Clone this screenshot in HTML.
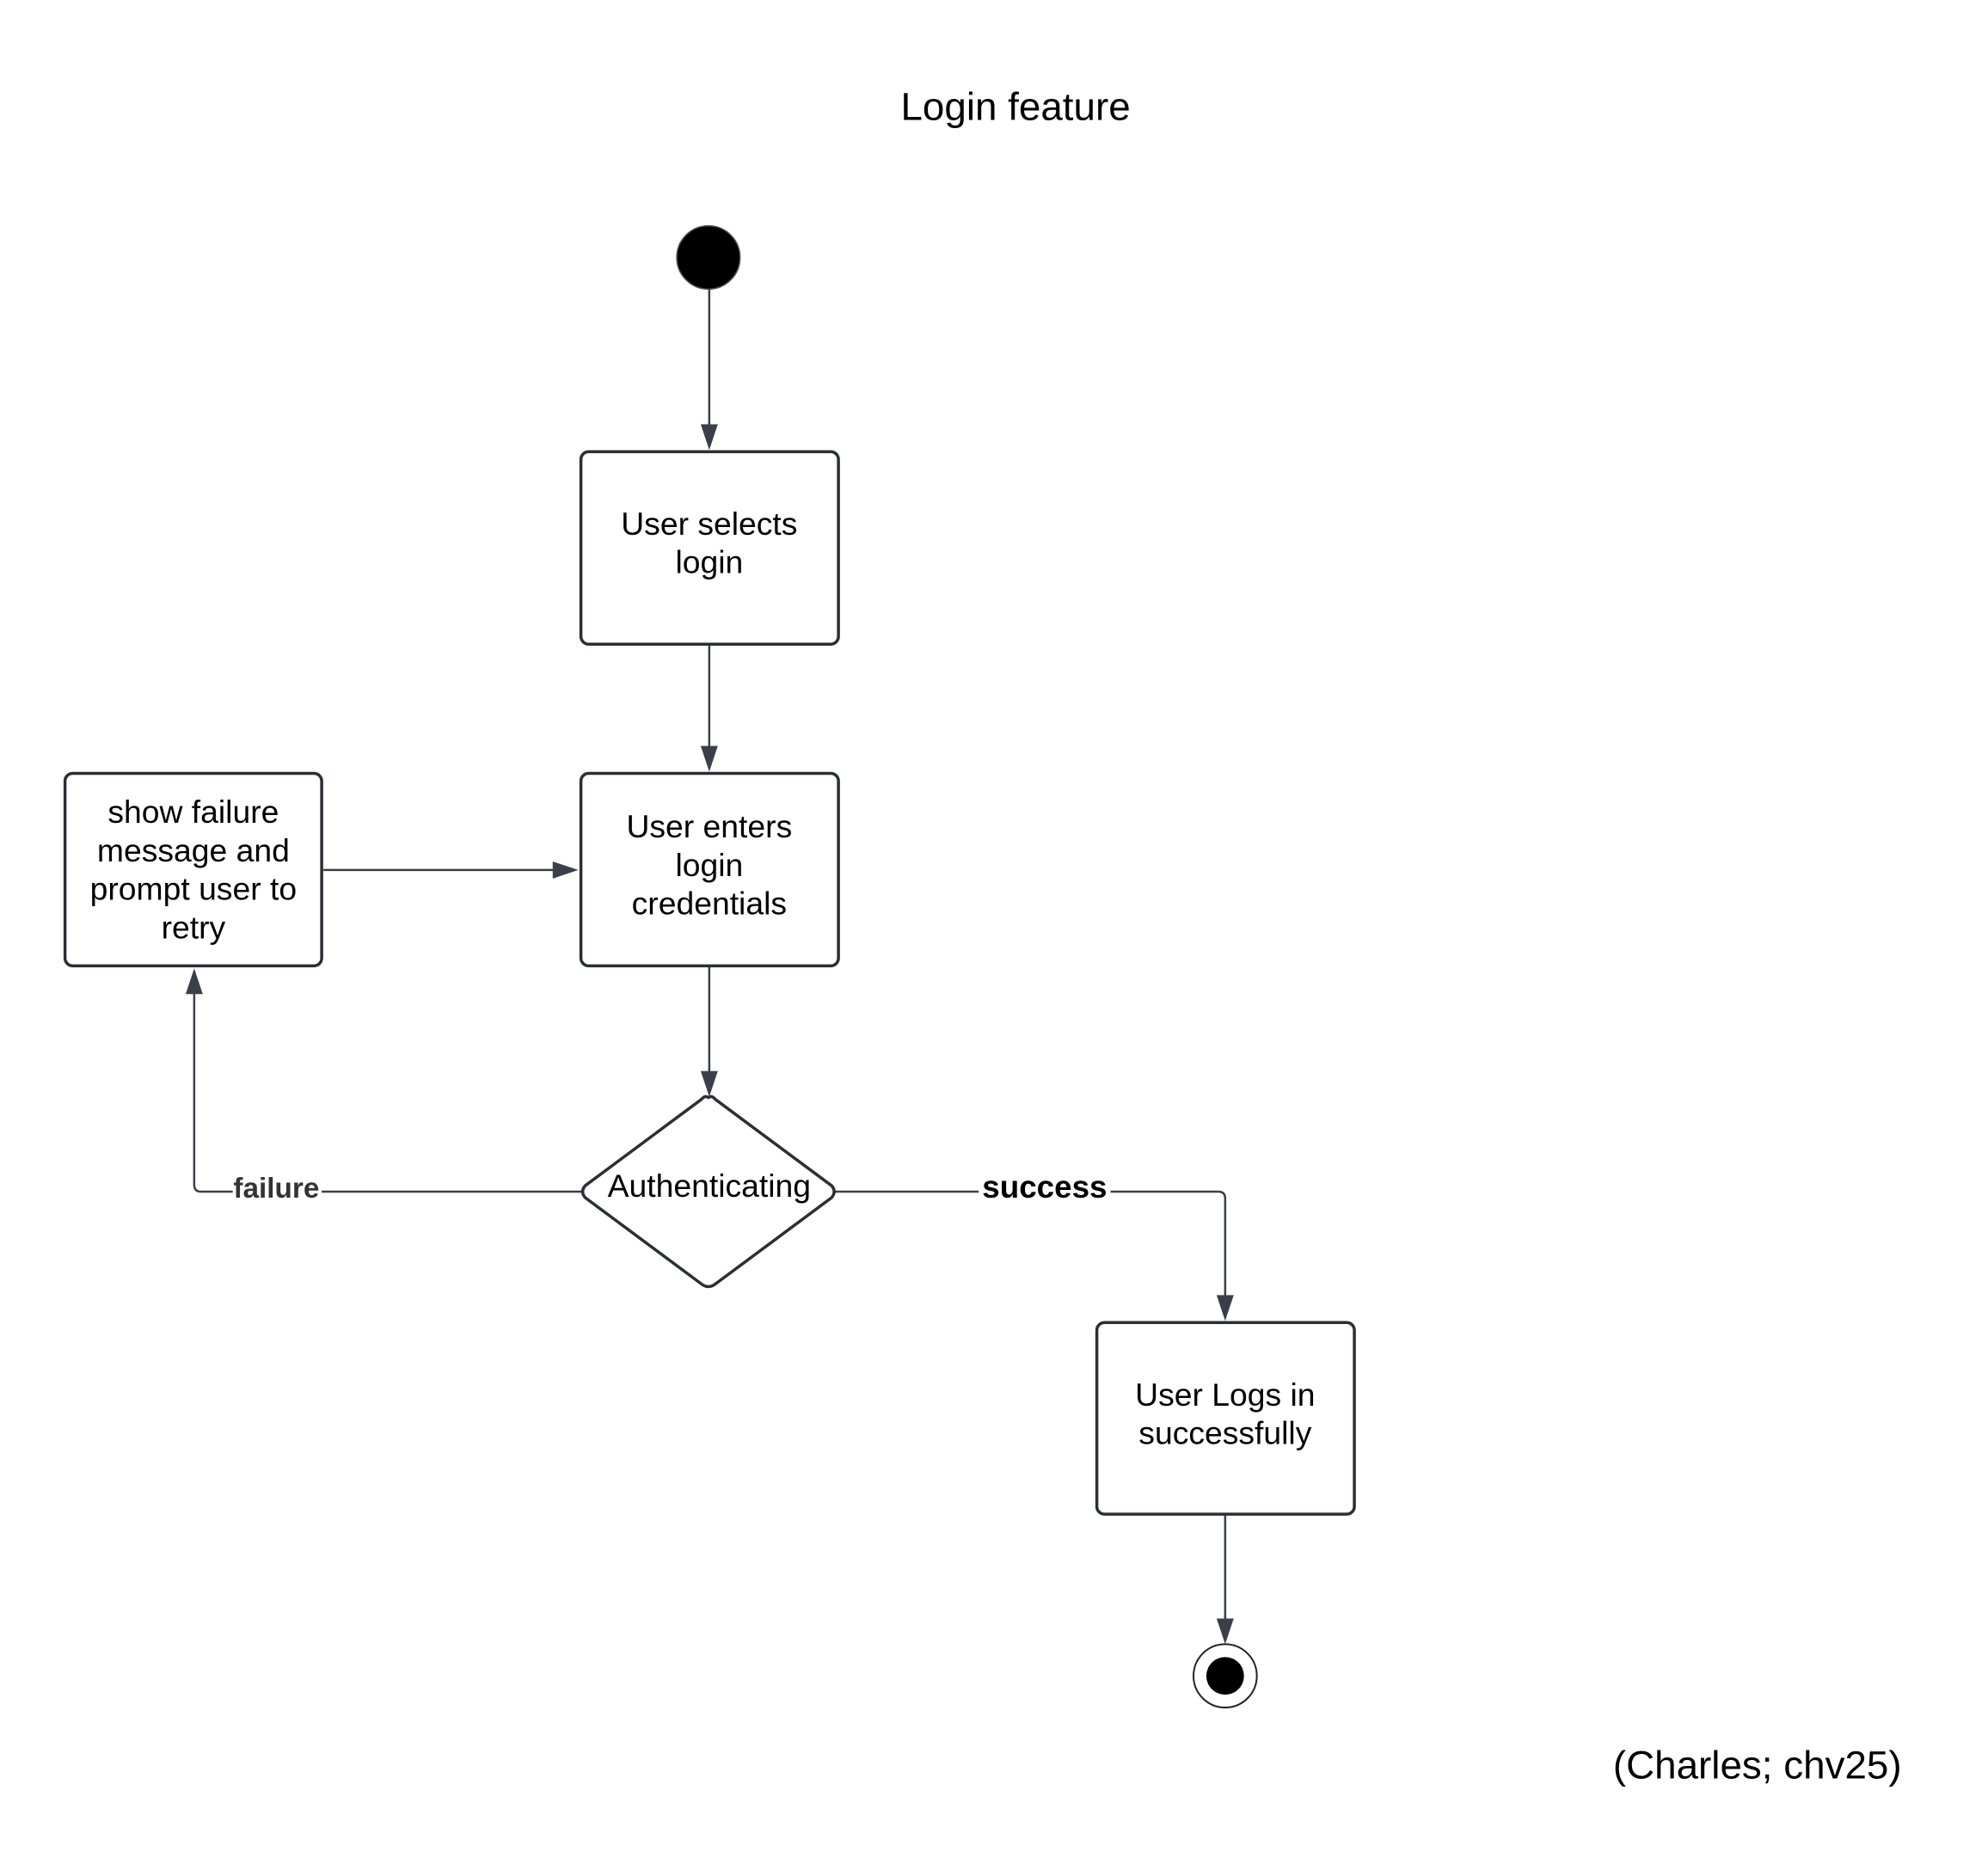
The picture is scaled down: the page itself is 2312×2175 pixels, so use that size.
<!DOCTYPE html>
<html><head><meta charset="utf-8"><style>
html,body{margin:0;padding:0;background:#fff;}
svg{display:block;}
text{font-family:"Liberation Sans",Arial,sans-serif;fill:#000;}
</style></head><body>
<svg width="2312" height="2175" viewBox="0 0 2312 2175" xmlns="http://www.w3.org/2000/svg">
<rect width="2312" height="2175" fill="#fff"/>
<g transform="scale(0.995)">
<text x="1187" y="140" font-size="46" text-anchor="middle">Login feature</text>

<circle cx="828" cy="301" r="37" fill="#000" stroke="#555" stroke-width="1.5"/>

<g stroke="#3a3f4a" stroke-width="2.5" fill="none">
<line x1="829" y1="338" x2="829" y2="500"/>
<line x1="829" y1="753" x2="829" y2="876"/>
<line x1="378" y1="1017" x2="650" y2="1017"/>
<line x1="829" y1="1129" x2="829" y2="1256"/>
<path d="M680 1393 H235 Q227 1393 227 1385 V1162"/>
<path d="M976 1393 H1424 Q1432 1393 1432 1401 V1518"/>
<line x1="1432" y1="1770" x2="1432" y2="1892"/>
</g>
<g fill="#3a3f4a">
<polygon points="819,496 839,496 829,526"/>
<polygon points="819,872 839,872 829,902"/>
<polygon points="646,1007 646,1027 676,1017"/>
<polygon points="819,1252 839,1252 829,1282"/>
<polygon points="217,1162 237,1162 227,1132"/>
<polygon points="1422,1514 1442,1514 1432,1544"/>
<polygon points="1422,1892 1442,1892 1432,1922"/>
</g>

<g stroke="#2b2e35" stroke-width="3.5" fill="#fff">
<rect x="679" y="528" width="301" height="225" rx="9"/>
<rect x="679" y="904" width="301" height="225" rx="9"/>
<rect x="76" y="904" width="300" height="225" rx="9"/>
<rect x="1282" y="1546" width="301" height="224" rx="9"/>
<path d="M828 1283 Q832 1280 836 1285 L972 1386 Q978 1393 972 1400 L836 1501 Q828 1507 820 1501 L684 1400 Q678 1393 684 1386 L820 1285 Q824 1280 828 1283 Z" stroke-linejoin="round"/>
</g>

<g font-size="37.5" text-anchor="middle">
<text x="829" y="625">User selects</text>
<text x="829" y="670">login</text>
<text x="829" y="979">User enters</text>
<text x="829" y="1024">login</text>
<text x="829" y="1069">credentials</text>
<text x="226" y="962">show failure</text>
<text x="226" y="1007">message and</text>
<text x="226" y="1052">prompt user to</text>
<text x="226" y="1097">retry</text>
<text x="829" y="1399">Authenticating</text>
<text x="1432" y="1643">User Logs in</text>
<text x="1432" y="1688">successfully</text>
</g>

<rect x="272" y="1372" width="104" height="40" fill="#fff"/>
<text x="323" y="1400" font-size="33.5" font-weight="bold" text-anchor="middle" style="fill:#333">failure</text>
<rect x="1144" y="1372" width="154" height="40" fill="#fff"/>
<text x="1221" y="1400" font-size="37" font-weight="bold" text-anchor="middle">success</text>

<circle cx="1432" cy="1959" r="37" fill="#fff" stroke="#222" stroke-width="2"/>
<circle cx="1432" cy="1959" r="22" fill="#000"/>

<text x="2054" y="2079" font-size="46" text-anchor="middle">(Charles; chv25)</text>
</g>
</svg>
</body></html>
